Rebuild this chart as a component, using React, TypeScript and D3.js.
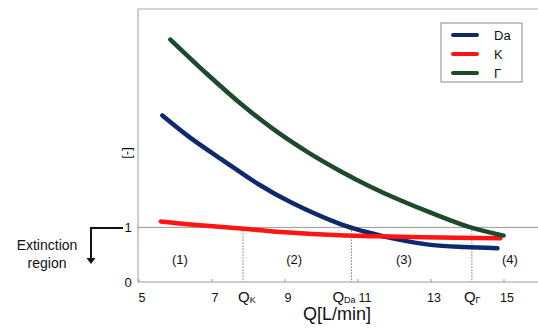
import React from 'react';
import * as d3 from 'd3';

const qDa = [5.64, 6.41, 7.32, 8.25, 9.16, 10.52, 11.15, 12.08, 12.99, 13.89, 14.82];
const da = [3.05, 2.64, 2.22, 1.80, 1.46, 1.06, 0.93, 0.78, 0.68, 0.64, 0.62];

const qK = [5.6, 6.5, 7.8, 9.0, 10.5, 11.5, 12.8, 14.9];
const kVals = [1.11, 1.05, 0.98, 0.91, 0.855, 0.84, 0.82, 0.80];

const qG = [5.86, 6.88, 7.78, 8.68, 9.62, 10.52, 11.3, 12.08, 12.99, 14.08, 14.99];
const gamma = [4.44, 3.80, 3.27, 2.80, 2.38, 2.03, 1.76, 1.52, 1.27, 1.00, 0.85];

const xTicks = [5, 7, 9, 11, 13, 15];
const yTicks = [0, 1];

const markerQ = [7.85, 10.82, 14.12];
const markerSub = ['K', 'Da', 'Γ'];
const regionQ = [6.12, 9.25, 12.26, 15.16];
const regionLabels = ['(1)', '(2)', '(3)', '(4)'];

const seriesNames = ['Da', 'K', 'Γ'];
const colors = ['#0c2a6c', '#ff1414', '#1c4a2b'];

const FONT = '"Liberation Sans", Arial, sans-serif';

const App = () => {
    const width = 538;
    const height = 329;

    const x = d3.scaleLinear().domain([5, 16]).range([139, 540.5]);
    const y = d3.scaleLinear().domain([0, 5]).range([282, 9]);

    const line = d3.line<[number, number]>()
        .x(d => x(d[0]))
        .y(d => y(d[1]))
        .curve(d3.curveCatmullRom.alpha(0.5));

    const series = [
        qDa.map((q, i) => [q, da[i]] as [number, number]),
        qK.map((q, i) => [q, kVals[i]] as [number, number]),
        qG.map((q, i) => [q, gamma[i]] as [number, number]),
    ];

    // where each Q label starts relative to its dotted line
    const subOffset = [-5, -19, -8];
    const axisColor = '#999';

    return (
        <svg width={width} height={height} style={{ position: 'absolute', left: 0, top: 0, fontFamily: FONT }}>
            <rect width={width} height={height} fill="#fff" />

            {/* frame */}
            <line x1={x(5) - 1} x2={width} y1={y(5)} y2={y(5)} stroke="#aaa" strokeWidth={1} />
            <line x1={x(5) - 1} x2={x(5) - 1} y1={y(5)} y2={y(0)} stroke={axisColor} strokeWidth={1} />
            <line x1={x(5) - 1} x2={width} y1={y(0)} y2={y(0)} stroke={axisColor} strokeWidth={1} />
            <line x1={x(5) - 1} x2={width} y1={y(1)} y2={y(1)} stroke={axisColor} strokeWidth={1} />

            {/* x ticks */}
            {xTicks.map(t => (
                <g key={t}>
                    <line x1={x(t)} x2={x(t)} y1={y(0)} y2={y(0) - 3} stroke={axisColor} />
                    <text x={x(t) + (t === 11 ? 7 : 3)} y={302} fontSize={12.5} textAnchor="middle" fill="#111">{t}</text>
                </g>
            ))}

            {/* y ticks */}
            {yTicks.map(t => (
                <text key={t} x={128} y={y(t) + 5} fontSize={13} textAnchor="middle" fill="#111">{t}</text>
            ))}

            <text transform="translate(131,153) rotate(-90)" fontSize={13} textAnchor="middle" fill="#111">[-]</text>
            <text x={337} y={320} fontSize={18} textAnchor="middle" fill="#111">Q[L/min]</text>

            {/* dotted markers */}
            {markerQ.map((q, i) => (
                <g key={q}>
                    <line x1={x(q)} x2={x(q)} y1={y(1)} y2={y(0)} stroke="#555" strokeWidth={0.8} strokeDasharray="1.5,1.5" />
                    <text x={x(q) + subOffset[i]} y={302} fontSize={15} fill="#111">
                        Q<tspan fontSize={9} dy={1}>{markerSub[i]}</tspan>
                    </text>
                </g>
            ))}

            {regionQ.map((q, i) => (
                <text key={i} x={x(q)} y={264} fontSize={13} textAnchor="middle" fill="#111">{regionLabels[i]}</text>
            ))}

            {/* curves */}
            {series.map((s, i) => (
                <path key={i} d={line(s) || ''} fill="none" stroke={colors[i]} strokeWidth={4.5} strokeLinecap="round" />
            ))}

            {/* legend */}
            <rect x={441} y={23} width={81} height={59} fill="#fff" stroke="#888" strokeWidth={1} />
            {seriesNames.map((n, i) => (
                <g key={n} transform={`translate(0,${35 + i * 19})`}>
                    <line x1={453} x2={477} y1={0} y2={0} stroke={colors[i]} strokeWidth={4} strokeLinecap="round" />
                    <text x={494} y={5} fontSize={13} fill="#111">{n}</text>
                </g>
            ))}

            {/* extinction region */}
            <path d="M123,228 H91 V258" fill="none" stroke="#111" strokeWidth={2} />
            <path d="M86.5,258 L95.5,258 L91,264 Z" fill="#111" />
            <text x={47} y={250} fontSize={14} textAnchor="middle" fill="#111">Extinction</text>
            <text x={47} y={268} fontSize={14} textAnchor="middle" fill="#111">region</text>
        </svg>
    );
};

export default App;
